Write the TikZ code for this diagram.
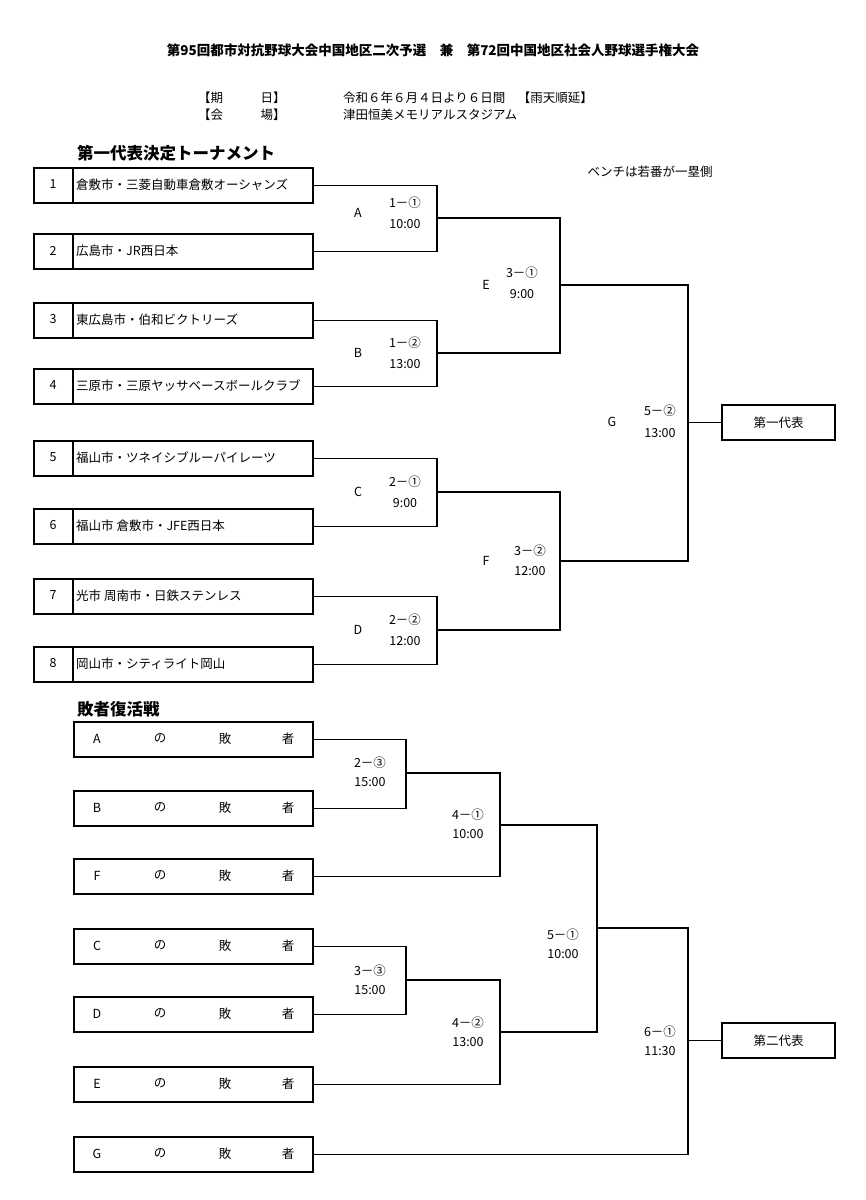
\documentclass[tikz,border=0pt]{standalone}
\usepackage{fontspec}
\setmainfont{Noto Sans CJK JP}
\begin{document}
\begin{tikzpicture}[x=1pt,y=-1pt,
 box/.style={draw,line width=1.8pt,minimum width=279pt,minimum height=35pt,inner sep=0,anchor=north west},
 lbox/.style={draw,line width=1.8pt,minimum width=239pt,minimum height=35pt,inner sep=0,anchor=north west},
 rbox/.style={draw,line width=1.5pt,minimum width=113pt,minimum height=35pt,inner sep=0,font=\fontsize{12.5}{13}\selectfont},
 ln/.style={line width=1.8pt},
 t/.style={font=\fontsize{12.5}{13}\selectfont,inner sep=0},
 tb/.style={font=\fontsize{12.5}{13}\selectfont,inner sep=0,anchor=west}]
\fill[white] (0,0) rectangle (866,1200);
\useasboundingbox (0,0) rectangle (866,1200);
\node[font=\fontsize{13.5}{14}\selectfont\bfseries] (title) at (433,50) {第95回都市対抗野球大会中国地区二次予選　兼　第72回中国地区社会人野球選手権大会};
\node[tb] (k1) at (198,98) {【期\hspace{3em}日】};
\node[tb] (k2) at (198,115) {【会\hspace{3em}場】};
\node[tb] (v1) at (343,98) {令和６年６月４日より６日間　【雨天順延】};
\node[tb] (v2) at (343,115) {津田恒美メモリアルスタジアム};
\node[font=\fontsize{16.5}{17}\selectfont\bfseries,anchor=west,inner sep=0] (h1) at (77,153) {第一代表決定トーナメント};
\node[font=\fontsize{16.5}{17}\selectfont\bfseries,anchor=west,inner sep=0] (h2) at (77,709) {敗者復活戦};
\node[t] (bench) at (650,172) {ベンチは若番が一塁側};
% top boxes
\foreach \i/\y/\s in {1/167/倉敷市・三菱自動車倉敷オーシャンズ,2/233/広島市・JR西日本,3/302/東広島市・伯和ビクトリーズ,4/368/三原市・三原ヤッサベースボールクラブ,5/440/福山市・ツネイシブルーパイレーツ,6/508/福山市 倉敷市・JFE西日本,7/578/光市 周南市・日鉄ステンレス,8/646/岡山市・シティライト岡山}{
 \node[box] (t\i) at (33,\y) {};
 \draw[line width=1.8pt] (73,\y) -- ++(0,35);
 \node[t] (n\i) at (53,\y+17.5) {\i};
 \node[tb] (s\i) at (76,\y+17.5) {\s};
}
\node[rbox] (first) at (778.5,422.5) {第一代表};
\coordinate (A) at (437,218); \coordinate (B) at (437,353);
\coordinate (C) at (437,492); \coordinate (D) at (437,630);
\coordinate (E) at (560,285); \coordinate (F) at (560,561);
\coordinate (G) at (688,422.5);
\draw[ln] (t1.east) -| (A) |- (t2.east);
\draw[ln] (t3.east) -| (B) |- (t4.east);
\draw[ln] (t5.east) -| (C) |- (t6.east);
\draw[ln] (t7.east) -| (D) |- (t8.east);
\draw[ln] (A) -| (E) |- (B);
\draw[ln] (C) -| (F) |- (D);
\draw[ln] (E) -| (G) |- (F);
\draw[ln] (G) -- (first.west);
\foreach \n/\x/\y/\a/\b/\c in {la/358/213/A/1－①/10:00, lb/358/353/B/1－②/13:00, lc/358/492/C/2－①/9:00, ld/358/630/D/2－②/12:00}{
 \node[t] (\n) at (\x,\y) {\a};
 \node[t] (\n1) at (405,\y-10) {\b};
 \node[t] (\n2) at (405,\y+11) {\c};
}
\node[t] (le) at (486,285) {E}; \node[t] (le1) at (522,273) {3－①}; \node[t] (le2) at (522,294) {9:00};
\node[t] (lf) at (486,561) {F}; \node[t] (lf1) at (530,551) {3－②}; \node[t] (lf2) at (530,571) {12:00};
\node[t] (lg) at (612,422) {G}; \node[t] (lg1) at (660,411) {5－②}; \node[t] (lg2) at (660,433) {13:00};
% bottom
\foreach \i/\y/\l in {1/721/A,2/790/B,3/858/F,4/928/C,5/996/D,6/1066/E,7/1136/G}{
 \node[lbox] (b\i) at (73,\y) {};
 \node[t] (bl\i) at (97,\y+17.5) {\l};
 \node[t] (bn\i) at (160,\y+17.5) {の};
 \node[t] (bh\i) at (225,\y+17.5) {敗};
 \node[t] (bs\i) at (288,\y+17.5) {者};
}
\node[rbox] (second) at (778.5,1040.5) {第二代表};
\coordinate (P) at (406,773); \coordinate (Q) at (500,825);
\coordinate (R) at (406,980); \coordinate (S) at (500,1032);
\coordinate (U) at (597,928); \coordinate (V) at (688,1040.5);
\draw[ln] (b1.east) -| (P) |- (b2.east);
\draw[ln] (P) -| (Q) |- (b3.east);
\draw[ln] (b4.east) -| (R) |- (b5.east);
\draw[ln] (R) -| (S) |- (b6.east);
\draw[ln] (Q) -| (U) |- (S);
\draw[ln] (U) -| (V) |- (b7.east);
\draw[ln] (V) -- (second.west);
\foreach \n/\x/\y/\a/\b in {p/370/772/2－③/15:00, q/468/824/4－①/10:00, r/370/980/3－③/15:00, s/468/1032/4－②/13:00, u/563/944/5－①/10:00, v/660/1041/6－①/11:30}{
 \node[t] (\n1) at (\x,\y-9) {\a};
 \node[t] (\n2) at (\x,\y+10) {\b};
}
\end{tikzpicture}
\end{document}
